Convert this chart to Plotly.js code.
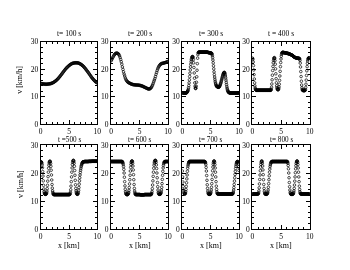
<!DOCTYPE html>
<html><head><meta charset="utf-8">
<script src="https://cdn.plot.ly/plotly-3.0.1.min.js"></script>
<style>html,body{margin:0;padding:0;background:#fff}#chart{width:350px;height:270px;filter:grayscale(1)}</style>
</head><body><div id="chart"></div>
<script>
const titles = ["t= 100 s","t= 200 s","t= 300 s","t = 400 s","t =500 s","t= 600 s","t= 700 s","t= 800 s"];
const xTitle = "x [km]";
const yTitle = "v [km/h]";
const xTicks = [0,5,10];
const yTicks = [0,10,20,30];

const xs10 = [0,0.1,0.2,0.3,0.4,0.5,0.6,0.7,0.8,0.9,
1,1.1,1.2,1.3,1.4,1.5,1.6,1.7,1.8,1.9,
2,2.1,2.2,2.3,2.4,2.5,2.6,2.7,2.8,2.9,
3,3.1,3.2,3.3,3.4,3.5,3.6,3.7,3.8,3.9,
4,4.1,4.2,4.3,4.4,4.5,4.6,4.7,4.8,4.9,
5,5.1,5.2,5.3,5.4,5.5,5.6,5.7,5.8,5.9,
6,6.1,6.2,6.3,6.4,6.5,6.6,6.7,6.8,6.9,
7,7.1,7.2,7.3,7.4,7.5,7.6,7.7,7.8,7.9,
8,8.1,8.2,8.3,8.4,8.5,8.6,8.7,8.8,8.9,
9,9.1,9.2,9.3,9.4,9.5,9.6,9.7,9.8,9.9,10];

const xs05 = [0,0.05,0.1,0.15,0.2,0.25,0.3,0.35,0.4,0.45,0.5,0.55,0.6,0.65,0.7,0.75,0.8,0.85,0.9,0.95,
1,1.05,1.1,1.15,1.2,1.25,1.3,1.35,1.4,1.45,1.5,1.55,1.6,1.65,1.7,1.75,1.8,1.85,1.9,1.95,
2,2.05,2.1,2.15,2.2,2.25,2.3,2.35,2.4,2.45,2.5,2.55,2.6,2.65,2.7,2.75,2.8,2.85,2.9,2.95,
3,3.05,3.1,3.15,3.2,3.25,3.3,3.35,3.4,3.45,3.5,3.55,3.6,3.65,3.7,3.75,3.8,3.85,3.9,3.95,
4,4.05,4.1,4.15,4.2,4.25,4.3,4.35,4.4,4.45,4.5,4.55,4.6,4.65,4.7,4.75,4.8,4.85,4.9,4.95,
5,5.05,5.1,5.15,5.2,5.25,5.3,5.35,5.4,5.45,5.5,5.55,5.6,5.65,5.7,5.75,5.8,5.85,5.9,5.95,
6,6.05,6.1,6.15,6.2,6.25,6.3,6.35,6.4,6.45,6.5,6.55,6.6,6.65,6.7,6.75,6.8,6.85,6.9,6.95,
7,7.05,7.1,7.15,7.2,7.25,7.3,7.35,7.4,7.45,7.5,7.55,7.6,7.65,7.7,7.75,7.8,7.85,7.9,7.95,
8,8.05,8.1,8.15,8.2,8.25,8.3,8.35,8.4,8.45,8.5,8.55,8.6,8.65,8.7,8.75,8.8,8.85,8.9,8.95,
9,9.05,9.1,9.15,9.2,9.25,9.3,9.35,9.4,9.45,9.5,9.55,9.6,9.65,9.7,9.75,9.8,9.85,9.9,9.95,10];

const v100 = [14.8,14.75,14.7,14.65,14.6,14.6,14.55,14.55,14.5,14.5,
14.5,14.5,14.55,14.55,14.6,14.6,14.65,14.7,14.75,14.8,
14.9,15.0,15.1,15.2,15.35,15.5,15.65,15.8,16.0,16.2,
16.4,16.6,16.85,17.1,17.35,17.6,17.9,18.15,18.45,18.7,
19.0,19.25,19.55,19.8,20.05,20.3,20.5,20.7,20.9,21.1,
21.3,21.45,21.6,21.75,21.9,22.0,22.1,22.15,22.2,22.25,
22.3,22.3,22.3,22.3,22.3,22.3,22.25,22.2,22.1,22.0,
21.9,21.75,21.6,21.45,21.3,21.1,20.9,20.65,20.4,20.15,
19.9,19.6,19.35,19.05,18.8,18.5,18.2,17.9,17.6,17.3,
17.0,16.75,16.5,16.25,16.0,15.8,15.6,15.4,15.25,15.1,15.0];

const v200 = [23.0,23.4,23.8,24.2,24.6,24.95,25.3,25.5,25.7,25.8,
25.85,25.8,25.7,25.5,25.3,24.8,24.2,23.5,22.7,21.8,
20.8,19.9,19.0,18.2,17.5,16.8,16.3,15.9,15.6,15.4,
15.2,15.05,14.95,14.85,14.75,14.6,14.55,14.5,14.4,14.35,
14.3,14.3,14.25,14.25,14.2,14.2,14.2,14.2,14.15,14.15,
14.1,14.05,14.0,13.95,13.9,13.8,13.7,13.6,13.5,13.4,
13.3,13.2,13.1,13.0,12.9,12.8,12.75,12.75,12.8,12.95,
13.15,13.4,13.8,14.25,14.8,15.4,16.0,16.6,17.3,18.1,
18.8,19.5,20.1,20.6,21.0,21.3,21.6,21.8,21.95,22.05,
22.1,22.15,22.2,22.25,22.3,22.4,22.45,22.5,22.6,22.7,22.8];

const v300 = [11.3,11.3,11.3,11.3,11.3,11.3,11.3,11.3,11.3,11.3,11.3,11.3,11.3,11.3,11.3,11.4,11.5,11.65,11.8,12.0,
12.2,12.6,13.2,14.0,15.0,16.1,17.3,18.5,19.7,20.8,21.8,22.7,23.4,23.9,24.3,24.5,24.6,24.5,24.2,23.5,
22.3,20.6,18.6,16.7,15.0,13.8,13.1,12.9,13.1,13.8,15.2,17.2,19.6,22.0,24.0,25.3,25.9,26.1,26.2,26.2,
26.2,26.2,26.2,26.2,26.2,26.2,26.2,26.2,26.2,26.2,26.2,26.2,26.2,26.2,26.2,26.2,26.2,26.2,26.2,26.2,
26.2,26.2,26.2,26.2,26.2,26.2,26.2,26.2,26.2,26.15,26.1,26.1,26.05,26.0,26.0,26.0,25.95,25.95,25.9,25.9,
25.9,25.85,25.8,25.75,25.7,25.4,24.9,24.2,23.3,22.3,21.2,20.1,19.0,18.0,17.1,16.3,15.6,15.0,14.6,14.2,
13.95,13.8,13.7,13.6,13.6,13.5,13.45,13.4,13.4,13.45,13.55,13.7,13.9,14.1,14.4,14.7,15.0,15.4,15.8,16.2,
16.6,17.0,17.4,17.8,18.1,18.4,18.6,18.75,18.8,18.75,18.5,18.1,17.5,16.8,16.0,15.2,14.4,13.7,13.1,12.6,
12.2,11.95,11.75,11.6,11.5,11.45,11.4,11.35,11.3,11.3,11.3,11.3,11.3,11.3,11.3,11.3,11.3,11.3,11.3,11.3,
11.3,11.3,11.3,11.3,11.3,11.3,11.3,11.3,11.3,11.3,11.3,11.3,11.3,11.3,11.3,11.3,11.3,11.3,11.3,11.3,11.3];

const v400 = [24.0,23.9,23.5,22.6,21.3,19.7,18.0,16.4,15.0,13.9,13.1,12.7,12.5,12.4,12.3,12.3,12.3,12.3,12.3,12.3,
12.3,12.3,12.3,12.3,12.3,12.3,12.3,12.3,12.3,12.3,12.3,12.3,12.3,12.3,12.3,12.3,12.3,12.3,12.3,12.3,
12.3,12.3,12.3,12.3,12.3,12.3,12.3,12.3,12.3,12.3,12.3,12.3,12.3,12.3,12.3,12.3,12.3,12.3,12.3,12.3,
12.3,12.3,12.3,12.3,12.3,12.4,12.7,13.4,14.6,16.1,17.8,19.5,21.0,22.3,23.2,23.8,24.1,24.2,23.9,23.1,
21.8,20.1,18.3,16.5,15.0,13.9,13.2,12.8,12.6,12.5,12.5,12.6,12.9,13.5,14.5,15.9,17.5,19.2,20.9,22.4,
23.7,24.7,25.4,25.8,26.0,26.1,26.1,26.1,26.1,26.05,26.0,26.0,26.0,25.95,25.95,25.9,25.9,25.9,25.85,25.85,
25.8,25.8,25.75,25.75,25.7,25.7,25.65,25.6,25.55,25.5,25.5,25.45,25.4,25.35,25.3,25.25,25.2,25.15,25.1,25.05,
25.0,24.9,24.8,24.7,24.6,24.5,24.4,24.35,24.3,24.25,24.2,24.15,24.1,24.1,24.05,24.05,24.0,24.0,24.0,24.0,
24.0,23.95,23.9,23.9,23.9,23.7,23.2,22.2,20.8,19.1,17.3,15.6,14.2,13.2,12.6,12.35,12.25,12.2,12.2,12.2,
12.2,12.2,12.2,12.2,12.3,12.6,13.3,14.5,16.0,17.7,19.4,20.9,22.1,23.0,23.6,23.9,24.0,24.1,24.1,24.05,24.0];

const v500 = [24.0,24.0,23.9,23.8,23.5,22.9,21.9,20.5,18.9,17.2,15.6,14.3,13.4,12.9,12.6,12.5,12.4,12.4,12.4,12.5,
12.6,12.9,13.5,14.4,15.6,17.1,18.7,20.3,21.7,22.8,23.6,24.0,24.2,24.2,24.0,23.4,22.4,21.0,19.3,17.5,
15.9,14.6,13.6,13.0,12.6,12.4,12.3,12.3,12.3,12.3,12.3,12.3,12.3,12.3,12.3,12.3,12.3,12.3,12.3,12.3,
12.3,12.3,12.3,12.3,12.3,12.3,12.3,12.3,12.3,12.3,12.3,12.3,12.3,12.3,12.3,12.3,12.3,12.3,12.3,12.3,
12.3,12.3,12.3,12.3,12.3,12.3,12.3,12.3,12.3,12.3,12.3,12.3,12.3,12.3,12.3,12.3,12.3,12.3,12.3,12.3,
12.3,12.3,12.3,12.4,12.6,13.1,14.0,15.3,16.9,18.6,20.3,21.8,23.0,23.8,24.3,24.5,24.5,24.2,23.5,22.4,
20.9,19.2,17.4,15.8,14.5,13.6,13.0,12.7,12.5,12.4,12.4,12.5,12.7,13.1,13.8,14.8,16.0,17.2,18.3,19.3,
20.2,21.0,21.7,22.3,22.7,23.1,23.4,23.6,23.8,23.9,24.0,24.0,24.0,24.05,24.05,24.1,24.1,24.1,24.1,24.1,
24.1,24.1,24.1,24.1,24.1,24.1,24.1,24.1,24.1,24.1,24.15,24.15,24.15,24.15,24.15,24.15,24.15,24.15,24.15,24.15,
24.2,24.2,24.2,24.2,24.2,24.2,24.2,24.2,24.2,24.2,24.2,24.2,24.2,24.2,24.2,24.2,24.2,24.2,24.2,24.2,24.2];

const v600 = [24.1,24.1,24.1,24.1,24.1,24.1,24.1,24.1,24.1,24.1,24.1,24.1,24.1,24.1,24.1,24.1,24.1,24.1,24.1,24.1,
24.1,24.1,24.1,24.1,24.1,24.1,24.1,24.1,24.1,24.1,24.1,24.1,24.1,24.1,24.1,24.1,24.1,24.1,24.1,24.1,
24.0,23.8,23.5,23.0,22.3,21.3,20.0,18.5,16.9,15.4,14.2,13.3,12.8,12.5,12.4,12.3,12.3,12.3,12.3,12.4,
12.5,12.7,13.1,13.8,14.8,16.1,17.6,19.2,20.7,22.0,23.0,23.7,24.1,24.3,24.3,24.1,23.5,22.5,21.1,19.4,
17.6,15.9,14.5,13.5,12.9,12.5,12.35,12.3,12.3,12.3,12.3,12.3,12.3,12.3,12.3,12.3,12.3,12.3,12.3,12.3,
12.3,12.3,12.25,12.25,12.2,12.2,12.2,12.2,12.2,12.2,12.2,12.2,12.2,12.2,12.2,12.2,12.25,12.25,12.3,12.3,
12.3,12.3,12.3,12.3,12.3,12.3,12.3,12.3,12.3,12.3,12.3,12.3,12.3,12.3,12.3,12.3,12.3,12.3,12.3,12.3,
12.3,12.35,12.5,12.8,13.4,14.4,15.7,17.2,18.8,20.3,21.7,22.8,23.6,24.1,24.4,24.5,24.5,24.3,23.8,22.9,
21.6,20.0,18.3,16.6,15.1,13.9,13.1,12.7,12.5,12.4,12.4,12.4,12.4,12.5,12.6,12.8,13.2,13.9,14.9,16.2,
17.7,19.2,20.6,21.8,22.7,23.3,23.7,23.9,24.0,24.1,24.1,24.1,24.1,24.1,24.1,24.1,24.1,24.1,24.1,24.1,24.1];

const v700 = [20.7,18.6,16.8,15.2,14.0,13.2,12.8,12.6,12.5,12.5,12.6,12.8,13.3,14.1,15.2,16.5,17.9,19.3,20.6,21.7,
22.5,23.1,23.5,23.8,24.0,24.1,24.1,24.1,24.1,24.1,24.1,24.1,24.1,24.1,24.1,24.1,24.1,24.1,24.1,24.1,
24.1,24.1,24.1,24.1,24.1,24.1,24.1,24.1,24.1,24.1,24.1,24.1,24.1,24.1,24.1,24.1,24.1,24.1,24.1,24.1,
24.1,24.1,24.1,24.1,24.1,24.1,24.1,24.1,24.1,24.1,24.1,24.1,24.1,24.1,24.1,24.1,24.1,24.1,24.1,24.1,
24.0,23.9,23.6,23.0,22.0,20.7,19.1,17.4,15.8,14.5,13.5,12.9,12.6,12.45,12.4,12.4,12.4,12.4,12.45,12.55,
12.8,13.2,13.9,14.9,16.2,17.7,19.3,20.8,22.1,23.1,23.8,24.2,24.3,24.2,23.8,23.0,21.8,20.3,18.6,16.9,
15.3,14.1,13.3,12.8,12.6,12.5,12.5,12.5,12.5,12.5,12.5,12.5,12.5,12.5,12.5,12.5,12.5,12.5,12.5,12.5,
12.5,12.5,12.5,12.5,12.5,12.5,12.5,12.5,12.5,12.5,12.5,12.5,12.5,12.5,12.5,12.5,12.5,12.5,12.5,12.5,
12.5,12.5,12.5,12.5,12.5,12.5,12.5,12.5,12.5,12.5,12.5,12.5,12.5,12.5,12.5,12.5,12.5,12.5,12.6,12.8,
13.2,13.9,14.8,15.9,17.1,18.3,19.5,20.6,21.6,22.4,23.0,23.5,23.8,24.0,24.1,24.1,24.0,23.7,23.2,22.2,20.9];

const v800 = [12.5,12.5,12.5,12.5,12.5,12.5,12.5,12.5,12.5,12.5,12.5,12.5,12.5,12.5,12.5,12.5,12.5,12.5,12.5,12.5,
12.5,12.6,12.9,13.6,14.7,16.1,17.7,19.3,20.8,22.1,23.1,23.8,24.2,24.3,24.1,23.5,22.5,21.1,19.4,17.6,
15.9,14.5,13.5,12.9,12.6,12.5,12.45,12.4,12.4,12.4,12.45,12.5,12.6,12.8,13.2,13.9,14.9,16.2,17.6,19.0,
20.3,21.4,22.3,22.9,23.4,23.7,23.9,24.0,24.1,24.1,24.1,24.1,24.1,24.1,24.1,24.1,24.1,24.1,24.1,24.1,
24.1,24.1,24.1,24.1,24.1,24.1,24.1,24.1,24.1,24.1,24.1,24.1,24.1,24.1,24.1,24.1,24.1,24.1,24.1,24.1,
24.1,24.1,24.1,24.1,24.1,24.1,24.1,24.1,24.1,24.1,24.1,24.1,24.1,24.1,24.1,24.1,24.1,24.1,24.1,24.1,
24.1,24.1,24.1,23.9,23.5,22.7,21.5,20.0,18.3,16.6,15.1,13.9,13.1,12.7,12.5,12.4,12.4,12.4,12.4,12.4,
12.4,12.45,12.5,12.7,13.0,13.6,14.5,15.7,17.1,18.6,20.1,21.5,22.6,23.4,23.9,24.2,24.3,24.2,23.8,23.0,
21.8,20.3,18.6,16.9,15.3,14.1,13.3,12.8,12.6,12.5,12.5,12.5,12.5,12.5,12.5,12.5,12.5,12.5,12.5,12.5,
12.5,12.5,12.5,12.5,12.5,12.5,12.5,12.5,12.5,12.5,12.5,12.5,12.5,12.5,12.5,12.5,12.5,12.5,12.5,12.5,12.5];

const panels = [[xs10,v100],[xs10,v200],[xs05,v300],[xs05,v400],[xs05,v500],[xs05,v600],[xs05,v700],[xs05,v800]];

const W = 350, H = 270;
const colPx = [[40.7,97.3],[111,168],[182.3,239],[252.3,309.7]];
const rowPx = [[41.7,124],[145,229]];
const FONT = "Liberation Serif, Times New Roman, serif";

const traces = [];
const layout = {
  width: W, height: H, margin: {l:0,r:0,t:0,b:0},
  paper_bgcolor: "#fff", plot_bgcolor: "#fff",
  showlegend: false, annotations: [],
  font: {family: FONT, size: 7.5, color: "#000"}
};

panels.forEach((p, i) => {
  const n = i + 1;
  const c = i % 4, r = Math.floor(i / 4);
  const sfx = n === 1 ? "" : String(n);
  traces.push({
    x: p[0], y: p[1], type: "scatter", mode: "markers",
    xaxis: "x" + sfx, yaxis: "y" + sfx,
    marker: {symbol: "circle-open", size: 2.6, color: "#000", line: {width: 0.7, color: "#000"}},
    hoverinfo: "skip"
  });
  const common = {
    showline: true, linecolor: "#000", linewidth: 1, mirror: "ticks",
    ticks: "inside", ticklen: 4, tickwidth: 1, tickcolor: "#000",
    showgrid: false, zeroline: false, fixedrange: true,
    tickfont: {family: FONT, size: 7.5, color: "#000"}
  };
  layout["xaxis" + sfx] = Object.assign({}, common, {
    domain: [colPx[c][0] / W, colPx[c][1] / W], range: [0, 10],
    tickvals: xTicks, ticktext: xTicks.map(String),
    minor: {dtick: 1, tick0: 0, ticks: "inside", ticklen: 2, tickcolor: "#000", tickwidth: 1},
    anchor: "y" + sfx
  });
  layout["yaxis" + sfx] = Object.assign({}, common, {
    domain: [1 - rowPx[r][1] / H, 1 - rowPx[r][0] / H], range: [0, 30],
    tickvals: yTicks, ticktext: yTicks.map(String),
    minor: {dtick: 2, tick0: 0, ticks: "inside", ticklen: 2, tickcolor: "#000", tickwidth: 1},
    anchor: "x" + sfx
  });
  layout.annotations.push({
    text: titles[i], xref: "paper", yref: "paper",
    x: (colPx[c][0] + colPx[c][1]) / 2 / W, y: 1 - (rowPx[r][0] - (r === 0 ? 8 : 5.3)) / H,
    xanchor: "center", yanchor: "middle", showarrow: false,
    font: {family: FONT, size: r === 0 ? 7.5 : 7.2, color: "#000"}
  });
  if (c === 0) {
    layout.annotations.push({
      text: yTitle, xref: "paper", yref: "paper", textangle: -90,
      x: 20 / W, y: 1 - ((rowPx[r][0] + rowPx[r][1]) / 2 - 3) / H,
      xanchor: "center", yanchor: "middle", showarrow: false,
      font: {family: FONT, size: 8, color: "#000"}
    });
  }
  if (r === 1) {
    layout.annotations.push({
      text: xTitle, xref: "paper", yref: "paper",
      x: (colPx[c][0] + colPx[c][1]) / 2 / W, y: 1 - 245 / H,
      xanchor: "center", yanchor: "middle", showarrow: false,
      font: {family: FONT, size: 8, color: "#000"}
    });
  }
});

Plotly.newPlot("chart", traces, layout, {staticPlot: true, displayModeBar: false});
</script></body></html>
